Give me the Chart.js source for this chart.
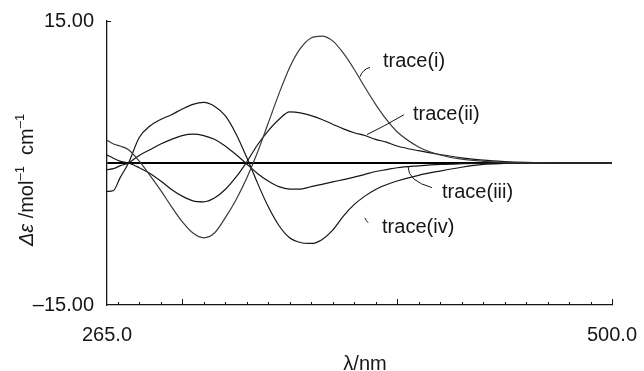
<!DOCTYPE html>
<html>
<head>
<meta charset="utf-8">
<script src="https://cdn.jsdelivr.net/npm/chart.js@4.4.0/dist/chart.umd.min.js"></script>
<style>
  body { margin: 0; background: #fff; }
  canvas { display: block; }
</style>
</head>
<body>
<canvas id="cd" width="644" height="371"></canvas>
<script>
// CD spectra, wavelength in nm
const wavelengths = [265, 268, 271, 275, 280, 285, 290, 295, 300, 305, 310, 315, 320, 325, 330, 335, 340, 345, 350, 355, 360, 365, 370, 375, 380, 385, 390, 395, 400, 410, 420, 430, 440, 450, 460, 470, 480, 490, 500];

const traceI   = [2.4, 2.0, 1.8, 1.4, 0.2, -1.3, -2.9, -4.6, -6.2, -7.4, -7.9, -7.4, -5.8, -3.9, -1.6, 1.1, 4.2, 7.3, 10.1, 12.1, 13.2, 13.4, 12.9, 11.6, 9.9, 8.0, 6.2, 4.6, 3.3, 1.7, 0.85, 0.4, 0.18, 0.07, 0.02, 0, 0, 0, 0];
const traceII  = [0.85, 0.5, 0.2, 0, -0.5, -1.1, -1.9, -2.8, -3.5, -4.0, -4.1, -3.7, -2.8, -1.5, 0.1, 1.9, 3.4, 4.6, 5.4, 5.3, 5.0, 4.6, 4.1, 3.6, 3.2, 2.9, 2.5, 2.2, 1.8, 1.3, 0.9, 0.55, 0.3, 0.15, 0.06, 0.02, 0, 0, 0];
const traceIII = [-0.7, -0.6, -0.3, 0, 0.8, 1.4, 2.0, 2.5, 2.9, 3.05, 2.9, 2.5, 1.8, 0.9, -0.1, -1.1, -1.9, -2.5, -2.75, -2.75, -2.5, -2.25, -2.0, -1.75, -1.5, -1.2, -0.9, -0.7, -0.5, -0.3, -0.15, -0.08, -0.04, -0.02, 0, 0, 0, 0, 0];
const traceIV  = [-3.0, -2.9, -1.6, 0, 2.7, 3.9, 4.6, 5.1, 5.7, 6.2, 6.4, 6.0, 5.0, 3.1, 0.6, -2.1, -4.6, -6.6, -7.9, -8.4, -8.5, -8.1, -7.1, -5.6, -4.4, -3.5, -2.8, -2.3, -1.9, -1.3, -0.85, -0.45, -0.15, -0.05, 0, 0, 0, 0, 0];

const xTickValues = [265, 500];
const xTickLabels = ["265.0", "500.0"];
const yTickValues = [-15, 0, 15];
const yTickLabels = ["\u201315.00", "", "15.00"];
const minorTicks = [270, 280, 290, 310, 320, 330, 340, 350, 360, 370, 380, 390, 410, 420, 430, 440, 450, 460, 470, 480, 490];
const majorTicks = [300, 400, 500];

// label text, text anchor (nm, value) and leader line start / control / end
const traceNames = ["trace(i)", "trace(ii)", "trace(iii)", "trace(iv)"];
const labelAt   = [[393.4, 10.7], [407.4, 5.1], [420.9, -3.1], [393.0, -6.8]];
const leaderA   = [[387.4, 10.1], [403.2, 5.1], [416.2, -2.6], [385.0, -5.8]];
const leaderC   = [[384.0, 9.9], [395.0, 4.0], [405.1, -1.9], [385.6, -6.1]];
const leaderB   = [[382.7, 9.1], [386.0, 3.0], [405.1, -0.4], [386.5, -6.3]];

const FONT = '"Liberation Sans", Arial, Helvetica, sans-serif';
const INK = "#161616";

function pts(vals) {
  return wavelengths.map((w, i) => ({ x: w, y: vals[i] }));
}

const decor = {
  id: "decor",
  afterDraw(chart) {
    const c = chart.ctx;
    const xs = chart.scales.x, ys = chart.scales.y;
    const a = chart.chartArea;
    c.save();
    c.strokeStyle = INK;
    c.lineWidth = 1;

    // inward tick marks on the wavelength axis
    minorTicks.forEach(v => {
      const px = Math.round(xs.getPixelForValue(v)) + 0.5;
      c.beginPath(); c.moveTo(px, a.bottom); c.lineTo(px, a.bottom - 3); c.stroke();
    });
    majorTicks.forEach(v => {
      const px = Math.round(xs.getPixelForValue(v)) + 0.5;
      c.beginPath(); c.moveTo(px, a.bottom); c.lineTo(px, a.bottom - 6); c.stroke();
    });
    // small stub at the top of the value axis
    const yt = Math.round(ys.getPixelForValue(15)) + 0.5;
    c.beginPath(); c.moveTo(a.left, yt); c.lineTo(a.left + 4, yt); c.stroke();

    // trace labels with leader lines
    c.fillStyle = INK;
    c.font = "20px " + FONT;
    c.textBaseline = "middle";
    c.textAlign = "left";
    traceNames.forEach((t, i) => {
      c.fillText(t, xs.getPixelForValue(labelAt[i][0]), ys.getPixelForValue(labelAt[i][1]));
      c.beginPath();
      c.moveTo(xs.getPixelForValue(leaderA[i][0]), ys.getPixelForValue(leaderA[i][1]));
      c.quadraticCurveTo(xs.getPixelForValue(leaderC[i][0]), ys.getPixelForValue(leaderC[i][1]),
        xs.getPixelForValue(leaderB[i][0]), ys.getPixelForValue(leaderB[i][1]));
      c.stroke();
    });

    // x axis title
    c.textAlign = "center";
    c.textBaseline = "alphabetic";
    c.fillText("\u03bb/nm", 365, 370);

    // y axis title, rotated, with superscripts
    const parts = [
      { t: "\u0394\u03b5", f: "italic 20px " + FONT, dy: 0 },
      { t: " /mol", f: "20px " + FONT, dy: 0 },
      { t: "\u20131", f: "13px " + FONT, dy: -9 },
      { t: "  cm", f: "20px " + FONT, dy: 0 },
      { t: "\u20131", f: "13px " + FONT, dy: -9 }
    ];
    let total = 0;
    parts.forEach(p => { c.font = p.f; p.w = c.measureText(p.t).width; total += p.w; });
    c.translate(33, 180);
    c.rotate(-Math.PI / 2);
    c.textAlign = "left";
    let x0 = -total / 2;
    parts.forEach(p => {
      c.font = p.f;
      c.fillText(p.t, x0, p.dy);
      x0 += p.w;
    });
    c.restore();
  }
};

const series = [traceI, traceII, traceIII, traceIV];

new Chart(document.getElementById("cd"), {
  type: "line",
  data: {
    datasets: series.map((s, i) => ({
      label: traceNames[i],
      data: pts(s),
      borderColor: i === 0 ? "#3a3a3a" : INK,
      borderWidth: 1.2,
      pointRadius: 0,
      cubicInterpolationMode: "monotone",
      fill: false
    }))
  },
  options: {
    responsive: false,
    animation: false,
    layout: { padding: { top: 21, right: 32, left: 0, bottom: 0 } },
    plugins: { legend: { display: false }, tooltip: { enabled: false } },
    scales: {
      x: {
        type: "linear",
        min: 265,
        max: 500,
        afterBuildTicks: s => { s.ticks = xTickValues.map(v => ({ value: v })); },
        afterFit: s => { s.height = 66; s.paddingLeft = 0; s.paddingRight = 0; },
        grid: { display: false, drawTicks: false },
        border: { display: true, color: INK, width: 1.3 },
        ticks: {
          autoSkip: false,
          maxRotation: 0,
          padding: 18,
          color: INK,
          font: { family: FONT, size: 20 },
          callback: (v, i) => xTickLabels[i]
        }
      },
      y: {
        min: -15,
        max: 15,
        afterBuildTicks: s => { s.ticks = yTickValues.map(v => ({ value: v })); },
        afterFit: s => { s.width = 107; s.paddingTop = 0; s.paddingBottom = 0; },
        grid: {
          drawTicks: false,
          color: c => (c.tick && c.tick.value === 0 ? "#000" : "rgba(0,0,0,0)"),
          lineWidth: 2
        },
        border: { display: true, color: INK, width: 1.3 },
        ticks: {
          autoSkip: false,
          padding: 13,
          color: INK,
          font: { family: FONT, size: 20 },
          callback: (v, i) => yTickLabels[i]
        }
      }
    }
  },
  plugins: [decor]
});
</script>
</body>
</html>
